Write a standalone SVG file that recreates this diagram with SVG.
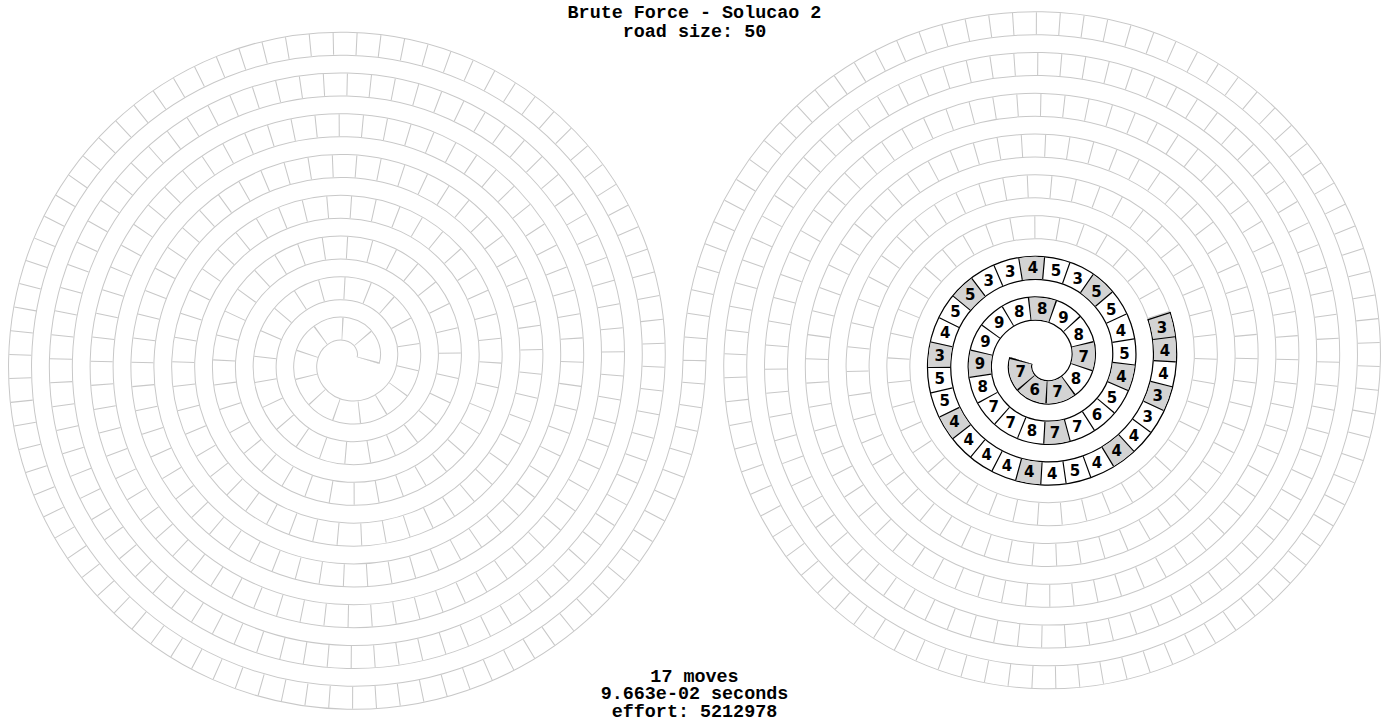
<svg xmlns="http://www.w3.org/2000/svg" xmlns:xlink="http://www.w3.org/1999/xlink" width="1389" height="723" viewBox="0 0 1389 723">
<style>
.edge{fill:none;stroke:#c8c8c8;stroke-width:24}
.wf{fill:none;stroke:#fff;stroke-width:22}
.dv{fill:none;stroke:#c8c8c8;stroke-width:22;stroke-dasharray:0.045 0.955}
.bedge{fill:none;stroke:#000;stroke-width:24.4}
.bwf{fill:none;stroke:#fff;stroke-width:22}
.gf{fill:none;stroke:#d3d3d3;stroke-width:22;stroke-dasharray:3 1 1 2 1 3 1 4 1 3 1 3 1 2 1 2 1 2 1 2 1 3 1 3 1 2 1 1 2 1}
.bdv{fill:none;stroke:#000;stroke-width:22;stroke-dasharray:0.05 0.95}
.n{font-family:"DejaVu Sans",sans-serif;font-weight:bold;font-size:15px;text-anchor:middle;fill:#000}
.t{font-family:"Liberation Mono",monospace;font-weight:bold;font-size:18.4px;text-anchor:middle;fill:#000}
</style>
<defs>
<path id="sp" pathLength="400" d="M -21 0 C -24.59 11.6 -17.23 27.61 0 31.2 C 17.23 34.79 37.81 22.87 41.4 0 C 44.99 -22.87 28.5 -48.01 0 -51.6 C -28.5 -55.19 -58.21 -34.13 -61.8 0 C -65.39 34.13 -39.77 68.41 0 72 C 39.77 75.59 78.61 45.4 82.2 0 C 85.79 -45.4 51.03 -88.81 0 -92.4 C -51.03 -95.99 -99.01 -56.67 -102.6 0 C -106.19 56.67 -62.3 109.21 0 112.8 C 62.3 116.39 119.41 67.93 123 0 C 126.59 -67.93 73.57 -129.61 0 -133.2 C -73.57 -136.79 -139.81 -79.2 -143.4 0 C -146.99 79.2 -84.83 150.01 0 153.6 C 84.83 157.19 160.21 90.47 163.8 0 C 167.39 -90.47 96.1 -170.41 0 -174 C -96.1 -177.59 -180.61 -101.73 -184.2 0 C -187.79 101.73 -107.37 190.81 0 194.4 C 107.37 197.99 201.01 113 204.6 0 C 208.19 -113 118.63 -211.21 0 -214.8 C -118.63 -218.39 -221.41 -124.27 -225 0 C -228.59 124.27 -129.9 231.61 0 235.2 C 129.9 238.79 241.81 135.53 245.4 0 C 248.99 -135.53 141.17 -252.01 0 -255.6 C -141.17 -259.19 -262.21 -146.8 -265.8 0 C -269.39 146.8 -152.44 272.41 0 276 C 152.44 279.59 282.61 158.07 286.2 0 C 289.79 -158.07 163.7 -292.81 0 -296.4 C -163.7 -299.99 -303.01 -169.34 -306.6 0 C -310.19 169.34 -174.97 313.21 0 316.8 C 174.97 320.39 323.41 180.6 327 0 C 330.59 -180.6 186.24 -333.61 0 -337.2 C -186.24 -340.79 -343.81 -191.87 -347.4 0"/>
<path id="sp51" pathLength="51" d="M -21 0 C -24.59 11.6 -17.23 27.61 0 31.2 C 17.23 34.79 37.81 22.87 41.4 0 C 44.99 -22.87 28.5 -48.01 0 -51.6 C -28.5 -55.19 -58.21 -34.13 -61.8 0 C -65.39 34.13 -39.77 68.41 0 72 C 39.77 75.59 78.61 45.4 82.2 0 C 85.79 -45.4 51.03 -88.81 0 -92.4 C -51.03 -95.99 -99.01 -56.67 -102.6 0 C -106.19 56.67 -62.3 109.21 0 112.8 C 62.3 116.39 119.41 67.93 123 0 C 123.79 -14.88 121.87 -29.93 117.23 -44.39"/>
<g id="lightRoad">
<use href="#sp" class="edge"/>
<use href="#sp" class="wf"/>
<use href="#sp" class="dv"/>
<path d="M -358.9 -0.21 L -335.9 0.21" stroke="#c8c8c8" stroke-width="1" fill="none"/>
</g>
</defs>
<rect width="1389" height="723" fill="#fff"/>
<g id="left-spiral" transform="translate(347.1 360.5) rotate(180)">
<use href="#lightRoad"/>
</g>
<g id="right-spiral" transform="translate(1041.9 360.5)">
<use href="#lightRoad"/>
<g id="solution-road">
<use href="#sp51" class="bedge"/>
<use href="#sp51" class="bwf"/>
<use href="#sp51" class="gf"/>
<use href="#sp51" class="bdv"/>
<path d="M 128.85 -48.11 L 105.61 -40.67" stroke="#000" stroke-width="1.2" fill="none"/>
</g>
<g id="labels">
<text class="n" x="-21.3" y="16.9">7</text>
<text class="n" x="-7.1" y="34.3">6</text>
<text class="n" x="15.5" y="36">7</text>
<text class="n" x="34.1" y="23">8</text>
<text class="n" x="41.8" y="1.5">7</text>
<text class="n" x="36.9" y="-20.9">8</text>
<text class="n" x="21.7" y="-38">9</text>
<text class="n" x="0.3" y="-46.1">8</text>
<text class="n" x="-22.6" y="-44">8</text>
<text class="n" x="-42.6" y="-32.5">9</text>
<text class="n" x="-56.4" y="-13.9">9</text>
<text class="n" x="-62" y="8.3">9</text>
<text class="n" x="-59.1" y="31.2">8</text>
<text class="n" x="-48.3" y="51.5">7</text>
<text class="n" x="-31.2" y="67">7</text>
<text class="n" x="-9.9" y="75.9">8</text>
<text class="n" x="13.1" y="77.5">7</text>
<text class="n" x="35.4" y="71.8">7</text>
<text class="n" x="55" y="59.6">6</text>
<text class="n" x="70.1" y="42.1">5</text>
<text class="n" x="79.5" y="21">4</text>
<text class="n" x="82.5" y="-1.9">5</text>
<text class="n" x="79" y="-24.7">4</text>
<text class="n" x="69.4" y="-45.9">5</text>
<text class="n" x="54.7" y="-63.5">5</text>
<text class="n" x="35.8" y="-76.8">3</text>
<text class="n" x="14.1" y="-84.8">5</text>
<text class="n" x="-8.9" y="-87.1">4</text>
<text class="n" x="-31.7" y="-83.6">3</text>
<text class="n" x="-53.1" y="-74.7">3</text>
<text class="n" x="-71.7" y="-60.9">5</text>
<text class="n" x="-86.5" y="-43.2">5</text>
<text class="n" x="-96.8" y="-22.4">4</text>
<text class="n" x="-102.1" y="0">3</text>
<text class="n" x="-102.2" y="23.2">5</text>
<text class="n" x="-97.2" y="45.6">5</text>
<text class="n" x="-87.4" y="66.5">4</text>
<text class="n" x="-73.2" y="84.8">4</text>
<text class="n" x="-55.3" y="99.8">4</text>
<text class="n" x="-35" y="110.6">4</text>
<text class="n" x="-12.7" y="116.8">4</text>
<text class="n" x="10.3" y="118.4">4</text>
<text class="n" x="33.2" y="115.3">5</text>
<text class="n" x="55" y="107.7">4</text>
<text class="n" x="74.9" y="95.8">4</text>
<text class="n" x="92" y="80.3">4</text>
<text class="n" x="105.8" y="61.8">3</text>
<text class="n" x="115.8" y="40.9">3</text>
<text class="n" x="121.6" y="18.5">4</text>
<text class="n" x="123.1" y="-4.8">4</text>
<text class="n" x="120.2" y="-27.8">3</text>
</g>
</g>
<g id="texts">
<text class="t" x="694.5" y="18.3">Brute Force - Solucao 2</text>
<text class="t" x="694.5" y="36.6">road size: 50</text>
<text class="t" x="694.5" y="681.6">17 moves</text>
<text class="t" x="694.5" y="699.2">9.663e-02 seconds</text>
<text class="t" x="694.5" y="716.6">effort: 5212978</text>
</g>
</svg>
